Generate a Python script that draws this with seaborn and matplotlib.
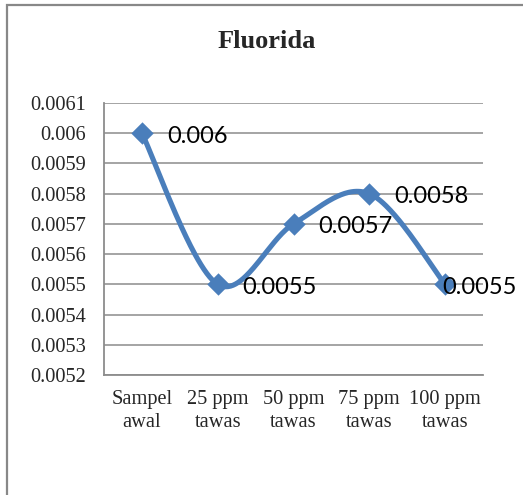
import numpy as np
import pandas as pd
import matplotlib
matplotlib.use("Agg")
import matplotlib.pyplot as plt
from matplotlib.patches import Rectangle
import seaborn as sns

# Fluoride concentration after alum (tawas) treatment
categories = ["Sampel\nawal", "25 ppm\ntawas", "50 ppm\ntawas", "75 ppm\ntawas", "100 ppm\ntawas"]
fluorida = [0.006, 0.0055, 0.0057, 0.0058, 0.0055]
y_ticks = [0.0052, 0.0053, 0.0054, 0.0055, 0.0056, 0.0057, 0.0058, 0.0059, 0.006, 0.0061]
y_tick_labels = ["0.0052", "0.0053", "0.0054", "0.0055", "0.0056",
                 "0.0057", "0.0058", "0.0059", "0.006", "0.0061"]
title = "Fluorida"

BLUE = "#4A7EBB"
GRID = "#8C8C8C"
SERIF = "Liberation Serif"
SANS = "Lato"


def smooth_curve(xs, ys, n=60):
    """Catmull-Rom style cubic Bezier through every point (spreadsheet 'smoothed line')."""
    pts = np.column_stack([xs, ys]).astype(float)
    ext = np.vstack([pts[0], pts, pts[-1]])
    out = []
    t = np.linspace(0, 1, n)[:, None]
    for i in range(len(pts) - 1):
        p0, p1, p2, p3 = ext[i], ext[i + 1], ext[i + 2], ext[i + 3]
        c1 = p1 + (p2 - p0) / 6.0
        c2 = p2 - (p3 - p1) / 6.0
        seg = ((1 - t) ** 3) * p1 + 3 * ((1 - t) ** 2) * t * c1 + 3 * (1 - t) * t ** 2 * c2 + t ** 3 * p2
        out.append(seg if i == 0 else seg[1:])
    out = np.vstack(out)
    return out[:, 0], out[:, 1]


sns.set_theme(style="white")
plt.rcParams["font.family"] = [SERIF, "DejaVu Serif"]

fig = plt.figure(figsize=(5.23, 4.95), dpi=100)
ax = fig.add_axes([104 / 523, 1 - 375 / 495, (483 - 104) / 523, (375 - 103) / 495])

xpos = np.arange(len(categories))
df = pd.DataFrame({"pos": xpos, "nilai": fluorida})
sx, sy = smooth_curve(xpos, fluorida)
curve = pd.DataFrame({"pos": sx, "nilai": sy})

sns.lineplot(data=curve, x="pos", y="nilai", ax=ax, color=BLUE, linewidth=3.7,
             sort=False, estimator=None, zorder=3)
sns.scatterplot(data=df, x="pos", y="nilai", ax=ax, color=BLUE, marker="D", s=130,
                edgecolor=BLUE, linewidth=0, zorder=4)

ax.set_xlim(-0.5, len(categories) - 0.5)
ax.set_ylim(y_ticks[0], y_ticks[-1])
ax.set_yticks(y_ticks)
ax.set_yticklabels(y_tick_labels, fontsize=14.7, fontfamily=SERIF)
ax.set_xticks(xpos)
ax.set_xticklabels(categories, fontsize=14.7, fontfamily=SERIF, linespacing=1.25)
ax.set_xlabel("")
ax.set_ylabel("")
ax.tick_params(axis="y", length=0, pad=13)
ax.tick_params(axis="x", length=0, pad=11)

ax.grid(axis="y", color=GRID, linewidth=1.1)
ax.set_axisbelow(True)
for side in ("top", "right"):
    ax.spines[side].set_visible(False)
for side in ("left", "bottom"):
    ax.spines[side].set_color(GRID)
    ax.spines[side].set_linewidth(1.3)

# value labels to the right of each marker
labels = []
for x, v in zip(xpos, fluorida):
    labels.append(ax.annotate(f"{v:g}", (x, v), xytext=(25, -3), textcoords="offset pixels",
                              ha="left", va="center", fontsize=17, fontfamily=SANS,
                              color="black", zorder=5))

fig.text(267 / 523, 1 - 42 / 495, title, ha="center", va="center", fontsize=19,
         fontweight="bold", fontfamily=SERIF)

# chart area border
fig.patches.append(Rectangle((6.5 / 523, -0.1), 1.2, 1 - 5.5 / 495 + 0.1,
                             transform=fig.transFigure, fill=False,
                             edgecolor="#888888", linewidth=1.6))

# keep labels inside the chart area
fig.canvas.draw()
renderer = fig.canvas.get_renderer()
limit = 517
for lab in labels:
    bb = lab.get_window_extent(renderer)
    if bb.x1 > limit:
        ox, oy = lab.xyann
        lab.xyann = (ox - (bb.x1 - limit), oy)

fig.savefig("out.png", dpi=100)
